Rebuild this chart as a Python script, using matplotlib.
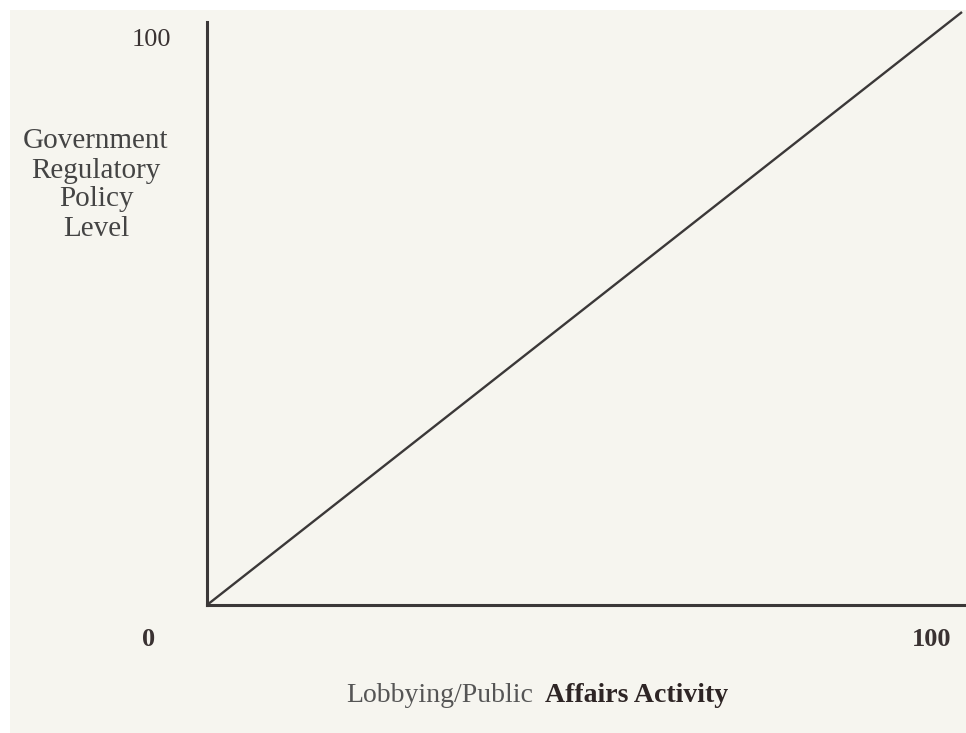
import matplotlib.pyplot as plt
from matplotlib.patches import Rectangle

# data
activity = [0, 100]
policy = [0, 100]
tick_labels = ["0", "100"]
y_label = "Government\nRegulatory\nPolicy\nLevel"
x_label_a = "Lobbying/Public"
x_label_b = "Affairs Activity"

W, H = 966, 733
paper = "#f6f5ef"
fig = plt.figure(figsize=(W / 100, H / 100), dpi=100, facecolor=paper)
plt.rcParams['font.family'] = ['Liberation Serif', 'DejaVu Serif']

# white margins of the scan (top and left)
fig.patches.append(Rectangle((0, (H - 10) / H), 1, 10 / H, transform=fig.transFigure,
                             facecolor="white", edgecolor="none"))
fig.patches.append(Rectangle((0, 0), 10 / W, 1, transform=fig.transFigure,
                             facecolor="white", edgecolor="none"))

def fx(px):
    return px / W

def fy(py):
    return (H - py) / H

ax = fig.add_axes([fx(207), fy(605), fx(962) - fx(207), fy(12) - fy(605)])
ax.patch.set_alpha(0)
ax.set_xlim(0, 100)
ax.set_ylim(0, 100)

ink = "#3b3838"
ax.plot(activity, policy, color=ink, lw=1.7, solid_capstyle="butt", clip_on=False)

for s in ["top", "right"]:
    ax.spines[s].set_visible(False)
ax.spines["left"].set_bounds(0, 98.3)
ax.spines["left"].set_color(ink)
ax.spines["left"].set_linewidth(2.2)
ax.spines["bottom"].set_color(ink)
ax.spines["bottom"].set_linewidth(2.2)
ax.spines["bottom"].set_bounds(0, 100.6)
ax.set_xticks([])
ax.set_yticks([])

txt = "#3a3232"
fig.text(fx(151), fy(40), tick_labels[1], ha="center", va="center", fontsize=19, color=txt)
fig.text(fx(149), fy(640), tick_labels[0], ha="center", va="center", fontsize=19,
         fontweight="bold", color=txt)
fig.text(fx(932), fy(640), tick_labels[1], ha="center", va="center", fontsize=19,
         fontweight="bold", color=txt)
fig.text(fx(96), fy(185), y_label, ha="center", va="center", fontsize=21, color="#444",
         linespacing=1.15)
fig.text(fx(533), fy(695), x_label_a, ha="right", va="center", fontsize=20, color="#555")
fig.text(fx(545), fy(695), x_label_b, ha="left", va="center", fontsize=20,
         fontweight="bold", color="#2e2525")

fig.savefig("out.png", dpi=100, facecolor=paper)
